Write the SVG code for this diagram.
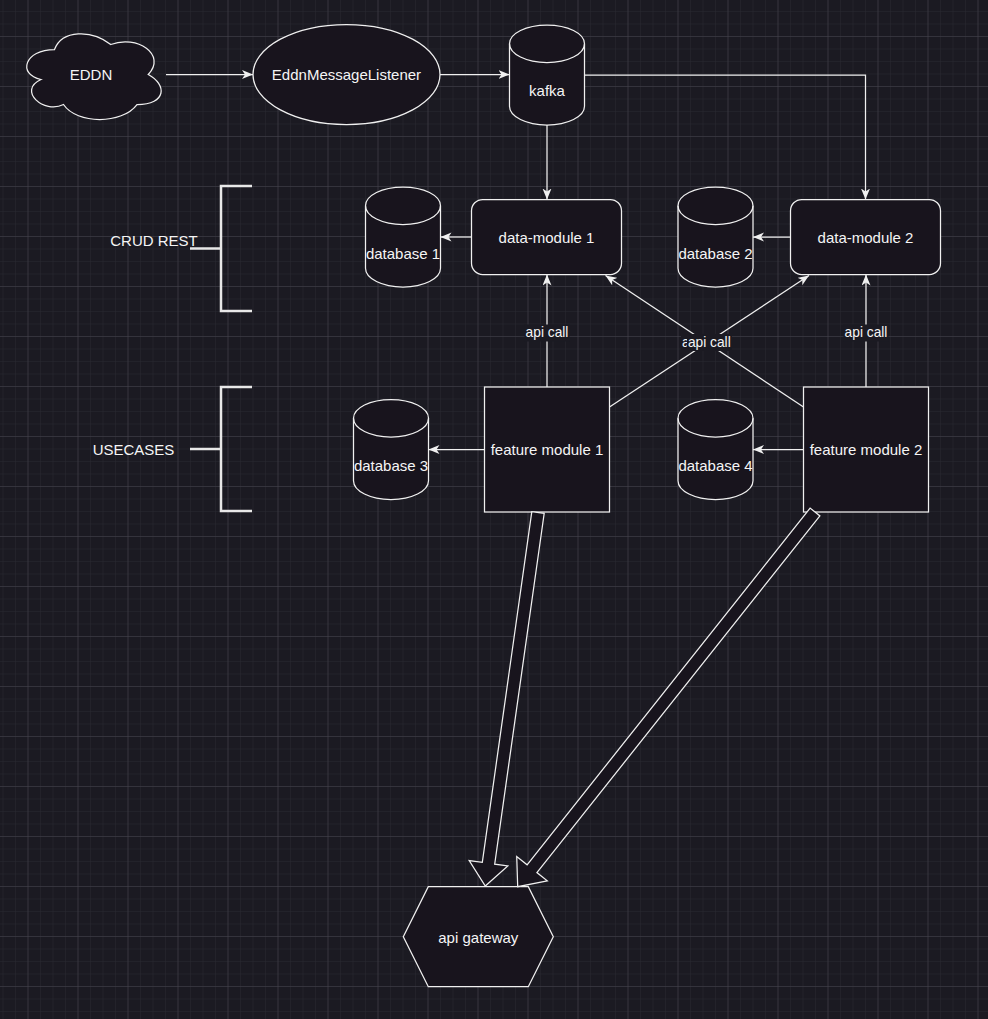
<svg xmlns="http://www.w3.org/2000/svg" width="988" height="1019" viewBox="0 0 988 1019">
<defs>
<pattern id="gMinor" patternUnits="userSpaceOnUse" x="2.5" y="11" width="12.5" height="12.5">
<path d="M12.5 0 H0 V12.5" fill="none" stroke="#2a2932" stroke-width="1"/>
</pattern>
<pattern id="gMajor" patternUnits="userSpaceOnUse" x="27.5" y="36" width="50" height="50">
<path d="M50 0 H0 V50" fill="none" stroke="#45444d" stroke-width="1"/>
</pattern>
<marker id="arr" markerUnits="userSpaceOnUse" markerWidth="12" markerHeight="10" refX="11" refY="4.5" orient="auto">
<path d="M0 0 L11 4.5 L0 9 L3 4.5 Z" fill="#f0f0f0"/>
</marker>
</defs>
<style>
.shape{fill:#18141d;stroke:#f0f0f0;stroke-width:1.25}
.line{fill:none;stroke:#f0f0f0;stroke-width:1.25}
.brk{fill:none;stroke:#e8e8e8;stroke-width:2.5}
.t{font-family:"Liberation Sans",Arial,Helvetica,sans-serif;font-size:15px;fill:#f5f5f5;text-anchor:middle}
.lt{font-family:"Liberation Sans",Arial,Helvetica,sans-serif;font-size:13.75px;fill:#f5f5f5;text-anchor:middle}
.lbg{fill:#1b1a22}
.flex{fill:#18141d;stroke:#f0f0f0;stroke-width:1.25;stroke-linejoin:miter}
</style>
<rect width="988" height="1019" fill="#1b1a22"/>
<rect width="988" height="1019" fill="url(#gMinor)"/>
<rect width="988" height="1019" fill="url(#gMajor)"/>

<g id="eddn">
<path class="shape" d="M54.5 49.5 C24.5 49.5 17 74.5 41 79.5 C17 90.5 44 114.5 63.5 104.5 C77 124.5 122 124.5 137 104.5 C167 104.5 167 84.5 148.25 74.5 C167 54.5 137 34.5 110.75 44.5 C92 29.5 62 29.5 54.5 49.5 Z"/>
<text class="t" x="91" y="80">EDDN</text>
</g>
<g id="listener">
<ellipse class="shape" cx="346.5" cy="74.5" rx="93.5" ry="50"/>
<text class="t" x="346.5" y="80">EddnMessageListener</text>
</g>
<g id="kafka">
<path class="shape" d="M509.5 43.75 A37.5 18.75 0 0 1 584.5 43.75 L584.5 106.25 A37.5 18.75 0 0 1 509.5 106.25 Z"/>
<path class="line" d="M509.5 43.75 A37.5 18.75 0 0 0 584.5 43.75"/>
<text class="t" x="547" y="96">kafka</text>
</g>
<g id="db1">
<path class="shape" d="M365.5 205.75 A37.5 18.75 0 0 1 440.5 205.75 L440.5 268.25 A37.5 18.75 0 0 1 365.5 268.25 Z"/>
<path class="line" d="M365.5 205.75 A37.5 18.75 0 0 0 440.5 205.75"/>
<text class="t" x="403" y="258.5">database 1</text>
</g>
<g id="dm1">
<rect class="shape" x="471.5" y="199.5" width="150" height="75" rx="11.25"/>
<text class="t" x="546.5" y="243">data-module 1</text>
</g>
<g id="db2">
<path class="shape" d="M678 205.75 A37.5 18.75 0 0 1 753 205.75 L753 268.25 A37.5 18.75 0 0 1 678 268.25 Z"/>
<path class="line" d="M678 205.75 A37.5 18.75 0 0 0 753 205.75"/>
<text class="t" x="715.5" y="258.5">database 2</text>
</g>
<g id="dm2">
<rect class="shape" x="790.5" y="199.5" width="150" height="75" rx="11.25"/>
<text class="t" x="865.5" y="243">data-module 2</text>
</g>
<g id="crud">
<path class="brk" d="M252 186 H221 V311 H252"/>
<path class="brk" d="M190 248.5 H221"/>
<text class="t" x="154" y="246">CRUD REST</text>
</g>
<g id="usecases">
<path class="brk" d="M252 387 H221 V511 H252"/>
<path class="brk" d="M190 449 H221"/>
<text class="t" x="133.5" y="455">USECASES</text>
</g>
<g id="db3">
<path class="shape" d="M353.5 418.25 A37.5 18.75 0 0 1 428.5 418.25 L428.5 480.75 A37.5 18.75 0 0 1 353.5 480.75 Z"/>
<path class="line" d="M353.5 418.25 A37.5 18.75 0 0 0 428.5 418.25"/>
<text class="t" x="391" y="471">database 3</text>
</g>
<g id="fm1">
<rect class="shape" x="484.5" y="387" width="125" height="125"/>
<text class="t" x="547" y="455">feature module 1</text>
</g>
<g id="db4">
<path class="shape" d="M678 418.25 A37.5 18.75 0 0 1 753 418.25 L753 480.75 A37.5 18.75 0 0 1 678 480.75 Z"/>
<path class="line" d="M678 418.25 A37.5 18.75 0 0 0 753 418.25"/>
<text class="t" x="715.5" y="471">database 4</text>
</g>
<g id="fm2">
<rect class="shape" x="803.5" y="387" width="125" height="125"/>
<text class="t" x="866" y="455">feature module 2</text>
</g>
<g id="gateway">
<polygon class="shape" points="428.3,886.7 528.3,886.7 553.3,936.7 528.3,986.7 428.3,986.7 403.3,936.7"/>
<text class="t" x="478.3" y="942.5">api gateway</text>
</g>

<g id="connectors">
<path class="line" d="M166 74.5 H253" marker-end="url(#arr)"/>
<path class="line" d="M440 74.5 H509.5" marker-end="url(#arr)"/>
<path class="line" d="M584.5 75 H865.5 V199.5" marker-end="url(#arr)"/>
<path class="line" d="M547 125 V199.5" marker-end="url(#arr)"/>
<path class="line" d="M471.5 237 H440.5" marker-end="url(#arr)"/>
<path class="line" d="M790.5 237 H753" marker-end="url(#arr)"/>
<path class="line" d="M484.5 449.5 H428.5" marker-end="url(#arr)"/>
<path class="line" d="M803.5 449.5 H753" marker-end="url(#arr)"/>
<path class="line" d="M547 387 V274.5" marker-end="url(#arr)"/>
<path class="line" d="M866 387 V274.5" marker-end="url(#arr)"/>
<path class="line" d="M609.5 407 L809 275.5" marker-end="url(#arr)"/>
<path class="line" d="M803.5 407 L605.5 275.5" marker-end="url(#arr)"/>
<rect class="lbg" x="524.5" y="324.5" width="45" height="17"/>
<text class="lt" x="547" y="337">api call</text>
<rect class="lbg" x="843.5" y="324.5" width="45" height="17"/>
<text class="lt" x="866" y="337">api call</text>
<rect class="lbg" x="681" y="334" width="45" height="17"/>
<text class="lt" x="703.5" y="346.7">api call</text>
<rect class="lbg" x="687" y="334" width="45" height="17"/>
<text class="lt" x="709.3" y="346.7">api call</text>
<polygon class="flex" points="531.81,511.63 482.32,862.36 469.2,860.51 485.3,886 507.82,865.95 494.7,864.1 544.19,513.37"/>
<polygon class="flex" points="810.1,508.12 527.1,864.8 516.72,856.56 517.7,886.7 547.28,880.8 536.9,872.57 819.9,515.89"/>
</g>
</svg>
